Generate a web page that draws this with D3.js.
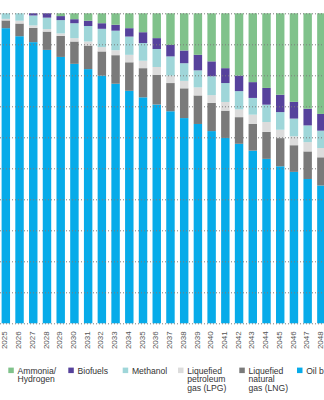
<!DOCTYPE html>
<html>
<head>
<meta charset="utf-8">
<script src="https://cdn.jsdelivr.net/npm/d3@7"></script>
<style>
  html, body { margin: 0; padding: 0; background: #fff; overflow: hidden; }
  svg { display: block; font-family: "Liberation Sans", Arial, sans-serif; }
</style>
</head>
<body>
<svg id="chart" width="324" height="400"></svg>
<script>
const years = [2025, 2026, 2027, 2028, 2029, 2030, 2031, 2032, 2033, 2034, 2035, 2036,
               2037, 2038, 2039, 2040, 2041, 2042, 2043, 2044, 2045, 2046, 2047, 2048]

// share of fuel mix, %
const oil      = [95.2, 92.7, 90.6, 88.2, 86.1, 83.7, 82.0, 79.9, 77.2, 75.0, 72.9, 70.5, 68.4, 66.2, 64.3, 62.0, 59.8, 57.9, 55.7, 53.1, 50.7, 48.9, 46.6, 44.5]
const lng      = [2.5, 4.1, 4.6, 5.9, 6.8, 7.2, 7.6, 7.8, 9.2, 9.2, 9.4, 9.6, 9.1, 9.6, 9.2, 9.1, 8.8, 8.6, 8.6, 8.7, 9.1, 8.6, 8.9, 9.1]
const lpg      = [0.5, 0.9, 0.8, 0.8, 0.8, 1.1, 1.3, 1.4, 1.6, 2.4, 2.4, 2.5, 2.4, 2.4, 2.6, 2.5, 2.8, 2.5, 3.0, 3.2, 2.7, 2.9, 3.0, 3.0]
const methanol = [1.8, 2.4, 3.2, 3.7, 4.3, 4.8, 5.0, 5.9, 6.3, 5.9, 5.7, 5.8, 6.2, 5.7, 5.5, 6.1, 6.1, 5.9, 5.4, 5.6, 5.7, 5.7, 5.4, 5.6]
const biofuels = [0, 0, 0.7, 1.4, 1.3, 1.3, 1.7, 1.8, 1.9, 2.7, 3.5, 3.5, 3.7, 4.1, 5.0, 4.8, 4.8, 5.0, 5.1, 5.4, 5.6, 5.4, 5.4, 5.4]
const ammonia  = [0, 0, 0, 0, 0.9, 1.9, 2.4, 3.2, 3.7, 4.8, 6.1, 8.0, 10.2, 12.0, 13.4, 15.5, 17.7, 20.1, 22.2, 24.1, 26.3, 28.6, 30.8, 32.5]

const keys = ['ammonia', 'biofuels', 'methanol', 'lpg', 'lng', 'oil']
const legendLabels = [
    ['Ammonia/', 'Hydrogen'],
    ['Biofuels'],
    ['Methanol'],
    ['Liquefied', 'petroleum', 'gas (LPG)'],
    ['Liquefied', 'natural', 'gas (LNG)'],
    ['Oil b']
]

const colors = { ammonia: '#80c28b', biofuels: '#56429c', methanol: '#9fd6d9', lpg: '#dcdcdc', lng: '#7a7a7a', oil: '#07abe9' }

const W = 324
const TOP = 13.3, BOTTOM = 323.3
const STEP = 13.72

const rows = years.map(function (y, i) {
    return { year: y, oil: oil[i], lng: lng[i], lpg: lpg[i], methanol: methanol[i], biofuels: biofuels[i], ammonia: ammonia[i] }
})

const stackOrder = keys.slice().reverse() // oil at the bottom
const series = d3.stack().keys(stackOrder).offset(d3.stackOffsetExpand)(rows)

const pad = 0.385
const x0 = 1.6 - pad * STEP / 2
const x = d3.scaleBand().domain(years).range([x0, x0 + years.length * STEP])
    .paddingInner(pad).paddingOuter(pad / 2)
const y = d3.scaleLinear().domain([0, 1]).range([BOTTOM, TOP])

const svg = d3.select('#chart')

svg.append('g').attr('class', 'bars')
    .selectAll('g').data(series).join('g')
    .attr('fill', function (d) { return colors[d.key] })
    .selectAll('rect').data(function (d) { return d }).join('rect')
    .attr('x', function (d) { return x(d.data.year) })
    .attr('width', x.bandwidth())
    .attr('y', function (d) { return y(d[1]) })
    .attr('height', function (d) { return Math.max(0, y(d[0]) - y(d[1])) })

// dotted gridlines sit on top of the bars
const grid = svg.append('g').attr('class', 'grid')
    .call(d3.axisRight(y).ticks(10).tickSize(W).tickFormat(''))
grid.select('.domain').remove()
grid.selectAll('line').attr('stroke', '#7d7d7d').attr('stroke-width', 1).attr('stroke-dasharray', '1,2')

const xAxis = svg.append('g').attr('class', 'x-axis')
    .attr('transform', 'translate(0,' + BOTTOM + ')')
    .call(d3.axisBottom(x).tickSize(0))
xAxis.select('.domain').remove()
xAxis.selectAll('text')
    .attr('transform', 'rotate(-90)')
    .attr('x', -8).attr('y', 0).attr('dy', '0.2em')
    .attr('text-anchor', 'end')
    .attr('fill', '#555').attr('font-size', '8px')
    .attr('font-family', '"Liberation Sans", Arial, sans-serif')

// legend
const legendX = [8.3, 68.3, 122.7, 178, 239.3, 297]
const legend = svg.append('g').attr('class', 'legend')
    .selectAll('g').data(keys).join('g')
    .attr('transform', function (d, i) { return 'translate(' + legendX[i] + ',367.6)' })

legend.append('rect').attr('width', 5.5).attr('height', 5.5)
    .attr('fill', function (d) { return colors[d] })

legend.append('text')
    .attr('x', 9.2).attr('y', 6.4)
    .attr('font-size', '8.6px').attr('fill', '#333')
    .selectAll('tspan').data(function (d, i) { return legendLabels[i] }).join('tspan')
    .attr('x', 9.2).attr('dy', function (d, i) { return i === 0 ? 0 : 8.5 })
    .text(function (d) { return d })
</script>
</body>
</html>
